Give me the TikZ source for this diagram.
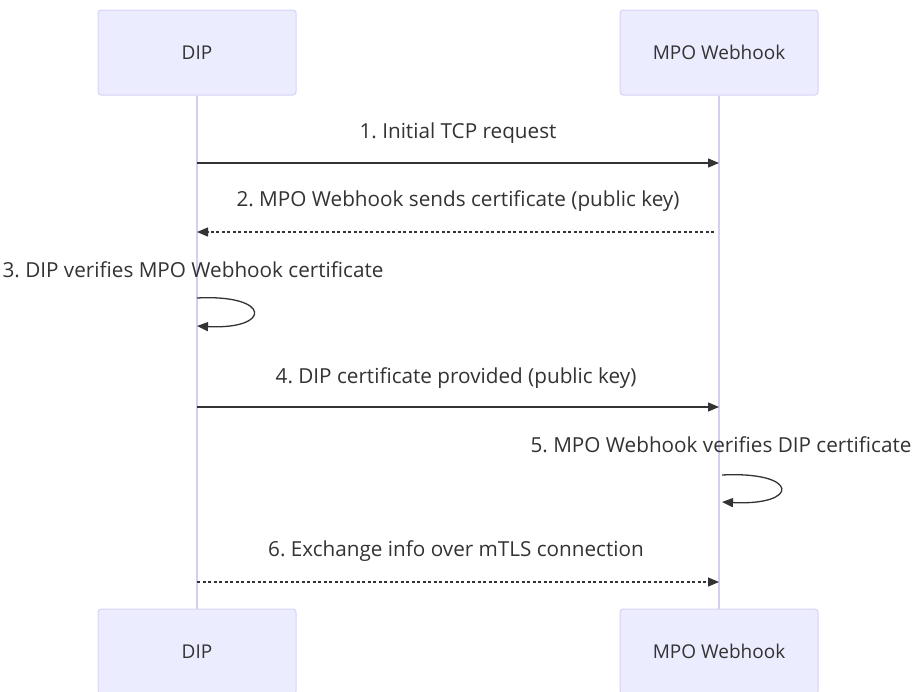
\documentclass[tikz,border=0pt]{standalone}
\usepackage{fontspec}
\setmainfont{Open Sans}
\usetikzlibrary{arrows.meta}

\definecolor{actorfill}{HTML}{ECECFF}
\definecolor{actorline}{HTML}{D8D2F5}
\definecolor{lifeline}{HTML}{D3CFF0}
\definecolor{msgcol}{HTML}{333333}

\begin{document}
\frenchspacing
\begin{tikzpicture}[x=1pt,y=-1pt,
    actor/.style={draw=actorline, fill=actorfill, rounded corners=3pt, line width=1pt,
        minimum width=198pt, minimum height=85pt, text=msgcol,
        font=\fontsize{19}{22}\selectfont},
    msg/.style={draw=msgcol, line width=1.3pt, -{Triangle[length=11pt,width=9pt]}},
    reply/.style={msg, dash pattern=on 3pt off 2.5pt},
    msglabel/.style={text=msgcol, font=\fontsize{20.7}{24}\selectfont, inner sep=0pt}]
\useasboundingbox (0,0) rectangle (915,691);
\fill[white] (0,0) rectangle (915,691);

% actors
\node[actor] (dipTop) at (197,52.5) {DIP};
\node[actor] (mpoTop) at (719,52.5) {MPO Webhook};
\node[actor] (dipBot) at (197,651.5) {DIP};
\node[actor] (mpoBot) at (719,651.5) {MPO Webhook};

% lifelines
\draw[lifeline, line width=1.2pt] (dipTop.south) -- (dipBot.north);
\draw[lifeline, line width=1.2pt] (mpoTop.south) -- (mpoBot.north);

% message ends
\coordinate (d1) at (197,163);  \coordinate (m1) at (719,163);
\coordinate (d2) at (197,232);  \coordinate (m2) at (714,232);
\coordinate (d3a) at (197,298); \coordinate (d3b) at (197,326);
\coordinate (d4) at (197,407);  \coordinate (m4) at (719,407);
\coordinate (m5a) at (722,475); \coordinate (m5b) at (722,502);
\coordinate (d6) at (197,582);  \coordinate (m6) at (719,582);

% messages
\node[msglabel] (l1) at (458,133) {1. Initial TCP request};
\draw[msg] (d1) -- (m1);

\node[msglabel] (l2) at (458,201) {2. MPO Webhook sends certificate (public key)};
\draw[reply] (m2) -- (d2);

\node[msglabel] (l3) at (193,270) {3. DIP verifies MPO Webhook certificate};
\draw[msg] (d3a) .. controls (272,294) and (272,330) .. (d3b);

\node[msglabel] (l4) at (456,378) {4. DIP certificate provided (public key)};
\draw[msg] (d4) -- (m4);

\node[msglabel] (l5) at (721,445) {5. MPO Webhook verifies DIP certificate};
\draw[msg] (m5a) .. controls (800,471) and (800,506) .. (m5b);

\node[msglabel] (l6) at (456,551) {6. Exchange info over mTLS connection};
\draw[reply] (d6) -- (m6);
\end{tikzpicture}
\end{document}
